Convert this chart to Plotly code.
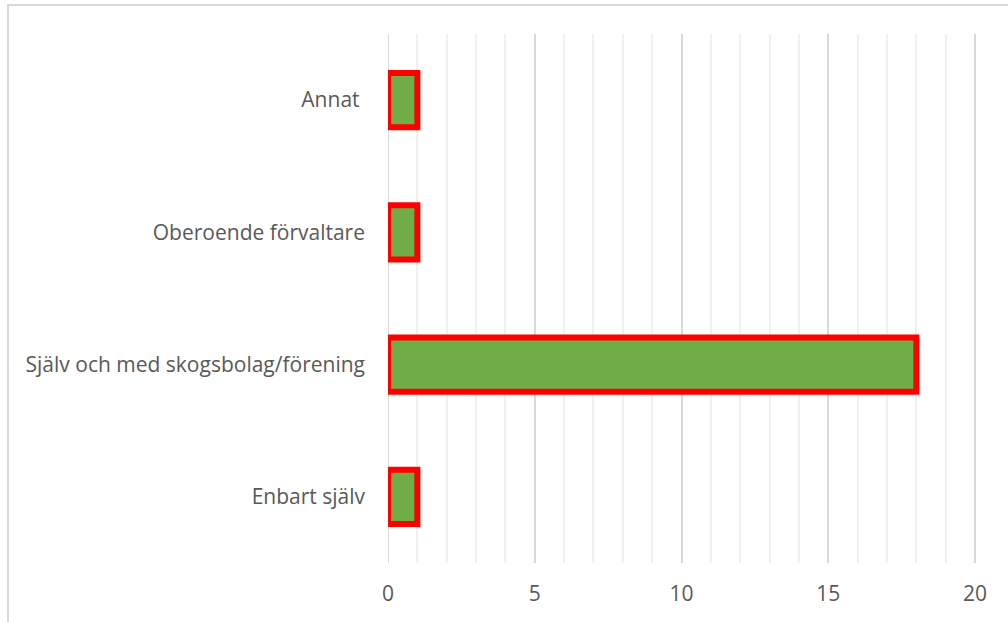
import plotly.graph_objects as go

# Survey answers: who manages the forest property
categories = ["Enbart själv", "Själv och med skogsbolag/förening", "Oberoende förvaltare", "Annat "]
counts = [1, 18, 1, 1]
x_ticks = [0, 5, 10, 15, 20]

W, H = 1008, 622
ML, MR, MT, MB = 388, 30, 34, 59
pw, ph = W - ML - MR, H - MT - MB

fig = go.Figure(
    go.Bar(
        y=categories,
        x=counts,
        orientation="h",
        width=0.41,
        marker=dict(color="#70ad47", line=dict(color="#ff0000", width=6)),
        hoverinfo="x+y",
    )
)

# outer chart frame (only top and left edges fall inside the page)
fx0 = (8 - ML) / pw
fy1 = 1 + (MT - 5) / ph
fig.add_shape(
    type="rect", xref="paper", yref="paper",
    x0=fx0, x1=1 + (MR + 5) / pw, y0=-(MB + 5) / ph, y1=fy1,
    line=dict(color="#d9d9d9", width=2), fillcolor="rgba(0,0,0,0)", layer="below",
)

fig.update_layout(
    width=W, height=H,
    margin=dict(l=ML, r=MR, t=MT, b=MB),
    paper_bgcolor="white", plot_bgcolor="white",
    font=dict(family="Open Sans", size=21, color="#595959"),
    showlegend=False,
    bargap=0.59,
    xaxis=dict(
        range=[0, 20.1], tickvals=x_ticks, ticktext=[str(v) for v in x_ticks],
        showgrid=True, gridcolor="#d9d9d9", gridwidth=2,
        minor=dict(tickvals=list(range(0, 21)), showgrid=True, gridcolor="#f0f0f0", gridwidth=2),
        zeroline=False, showline=False, ticks="", ticklabelstandoff=16,
        tickfont=dict(size=21, color="#595959"),
    ),
    yaxis=dict(
        categoryorder="array", categoryarray=categories,
        showgrid=False, zeroline=False, showline=False, ticks="",
        ticklabelstandoff=22, tickfont=dict(size=21, color="#595959"),
        range=[-0.5, 3.5],
    ),
)
fig.add_shape(type="line", xref="x", yref="paper", x0=0, x1=0, y0=0, y1=1,
              line=dict(color="#d9d9d9", width=2), layer="below")

fig.write_html("out.html")
